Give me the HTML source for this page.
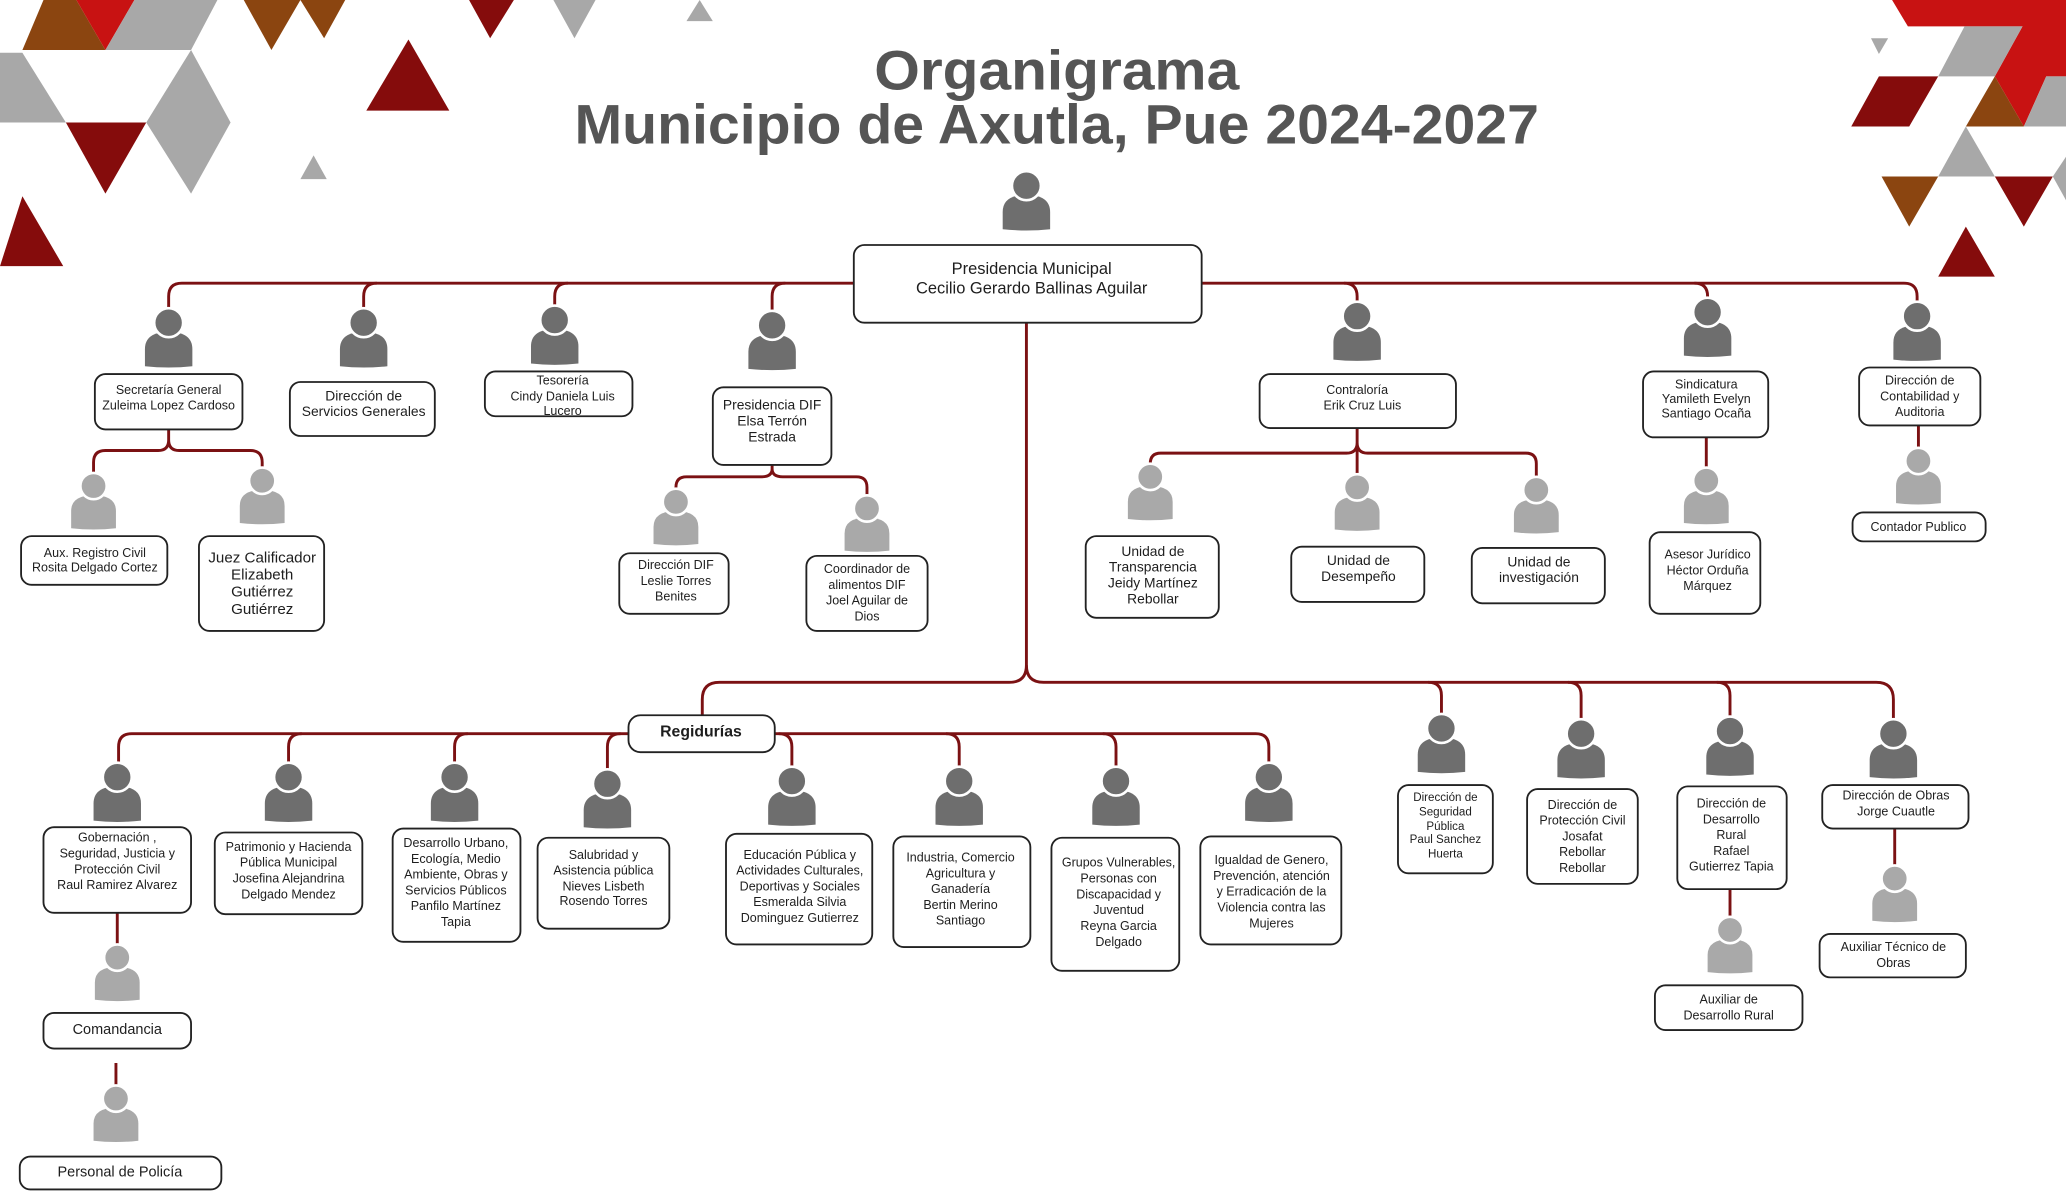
<!DOCTYPE html>
<html><head><meta charset="utf-8"><style>
html,body{margin:0;padding:0;background:#fff;}
svg{display:block;}
text{font-family:"Liberation Sans",sans-serif;fill:#1e1e1e;text-anchor:middle;}
.b{fill:#fff;stroke:#222;stroke-width:1.4;}
.c{fill:none;stroke:#7b1113;stroke-width:2.2;}
.s{font-size:9.5px;}
.m{font-size:10.5px;}
</style></head><body>
<svg width="2066" height="1200" viewBox="0 0 1568 911" preserveAspectRatio="none" xmlns="http://www.w3.org/2000/svg">
<defs>
<g id="pd"><path d="M-18,33 L-18,20 Q-18,7 0,7 Q18,7 18,20 L18,33 Q0,35 -18,33Z" fill="#6e6e6e"/><circle cx="0" cy="0" r="11" fill="#6e6e6e" stroke="#fff" stroke-width="2"/></g>
<g id="pl"><path d="M-17,32 L-17,19 Q-17,7 0,7 Q17,7 17,19 L17,32 Q0,34 -17,32Z" fill="#a9a9a9"/><circle cx="0" cy="0" r="10" fill="#a9a9a9" stroke="#fff" stroke-width="2"/></g>
</defs>
<!-- decorations left -->
<polygon points="17,38 33,0 58,0 80,38" fill="#8b4510"/>
<polygon points="58,0 102,0 80,38" fill="#c81212"/>
<polygon points="80,38 102,0 165,0 145,38" fill="#a8a8a8"/>
<polygon points="0,40 17,40 50,93 0,93" fill="#a8a8a8"/>
<polygon points="50,93 111,93 80,147" fill="#850c0c"/>
<polygon points="111,93 145,38 175,93 145,147" fill="#a8a8a8"/>
<polygon points="278,84 341,84 310,30" fill="#850c0c"/>
<polygon points="185,0 228,0 206,38" fill="#8b4510"/>
<polygon points="228,0 262,0 246,29" fill="#8b4510"/>
<polygon points="356,0 390,0 372,29" fill="#850c0c"/>
<polygon points="420,0 452,0 436,29" fill="#a8a8a8"/>
<polygon points="521,16 541,16 531,0" fill="#a8a8a8"/>
<polygon points="228,136 248,136 238,118" fill="#a8a8a8"/>
<polygon points="0,202 48,202 17,149" fill="#850c0c"/>
<!-- decorations right -->
<polygon points="1436,0 1568,0 1568,58 1553,58 1536,96 1514,58 1535,20 1448,20" fill="#c81212"/>
<polygon points="1491,20 1535,20 1514,58 1471,58" fill="#a8a8a8"/>
<polygon points="1420,29 1433,29 1426,41" fill="#a8a8a8"/>
<polygon points="1426,58 1471,58 1449,96 1405,96" fill="#850c0c"/>
<polygon points="1514,58 1536,96 1492,96" fill="#8b4510"/>
<polygon points="1553,58 1568,58 1568,96 1536,96" fill="#a8a8a8"/>
<polygon points="1492,96 1514,134 1471,134" fill="#a8a8a8"/>
<polygon points="1428,134 1471,134 1449,172" fill="#8b4510"/>
<polygon points="1514,134 1558,134 1536,172" fill="#850c0c"/>
<polygon points="1558,134 1568,119 1568,152" fill="#a8a8a8"/>
<polygon points="1492,172 1514,210 1471,210" fill="#850c0c"/>
<!-- title -->
<text x="802" y="68" style="font-size:42px;font-weight:bold;fill:#555" textLength="277" lengthAdjust="spacingAndGlyphs">Organigrama</text>
<text x="802" y="109" style="font-size:42px;font-weight:bold;fill:#555" textLength="732" lengthAdjust="spacingAndGlyphs">Municipio de Axutla, Pue 2024-2027</text>
<!-- connectors -->
<path class="c" d="M648,215 H138 Q128,215 128,225 V234"/>
<path class="c" d="M286,215 Q276,215 276,225 V234"/>
<path class="c" d="M431,215 Q421,215 421,225 V232"/>
<path class="c" d="M596,215 Q586,215 586,225 V236"/>
<path class="c" d="M912,215 H1445 Q1455,215 1455,225 V230"/>
<path class="c" d="M1020,215 Q1030,215 1030,225 V230"/>
<path class="c" d="M1286,215 Q1296,215 1296,225 V228"/>
<path class="c" d="M779,245 V505 Q779,518 766,518 H546 Q533,518 533,531 V544"/>
<path class="c" d="M779,505 Q779,518 792,518 H1424 Q1437,518 1437,531 V547"/>
<path class="c" d="M1084,518 Q1094,518 1094,528 V543"/>
<path class="c" d="M1190,518 Q1200,518 1200,528 V547"/>
<path class="c" d="M1303,518 Q1313,518 1313,528 V545"/>
<path class="c" d="M477,557 H100 Q90,557 90,567 V580"/>
<path class="c" d="M229,557 Q219,557 219,567 V580"/>
<path class="c" d="M355,557 Q345,557 345,567 V580"/>
<path class="c" d="M471,557 Q461,557 461,567 V585"/>
<path class="c" d="M588,557 H953 Q963,557 963,567 V580"/>
<path class="c" d="M591,557 Q601,557 601,567 V583"/>
<path class="c" d="M718,557 Q728,557 728,567 V583"/>
<path class="c" d="M837,557 Q847,557 847,567 V583"/>
<!-- sub connectors -->
<path class="c" d="M128,326 V334 Q128,342 120,342 H80 Q71,342 71,351 V360 M128,334 Q128,342 136,342 H190 Q199,342 199,351 V356"/>
<path class="c" d="M586,353 V356 Q586,362 578,362 H521 Q513,362 513,370 V372 M586,356 Q586,362 594,362 H650 Q658,362 658,370 V377"/>
<path class="c" d="M1030,325 V336 Q1030,344 1022,344 H881 Q873,344 873,352 V353 M1030,336 V361 M1030,336 Q1030,344 1038,344 H1158 Q1166,344 1166,352 V363"/>
<path class="c" d="M1295,332 V356"/>
<path class="c" d="M1456,323 V341"/>
<path class="c" d="M89,693 V718"/>
<path class="c" d="M88,807 V826"/>
<path class="c" d="M1313,675 V697"/>
<path class="c" d="M1438,629 V658"/>
<!-- icons -->
<use href="#pd" x="779" y="141"/>
<use href="#pd" x="128" y="245"/><use href="#pd" x="276" y="245"/><use href="#pd" x="421" y="243"/><use href="#pd" x="586" y="247"/>
<use href="#pd" x="1030" y="240"/><use href="#pd" x="1296" y="237"/><use href="#pd" x="1455" y="240"/>
<use href="#pl" x="71" y="369"/><use href="#pl" x="199" y="365"/><use href="#pl" x="513" y="381"/><use href="#pl" x="658" y="386"/>
<use href="#pl" x="873" y="362"/><use href="#pl" x="1030" y="370"/><use href="#pl" x="1166" y="372"/><use href="#pl" x="1295" y="365"/><use href="#pl" x="1456" y="350"/>
<use href="#pd" x="89" y="590"/><use href="#pd" x="219" y="590"/><use href="#pd" x="345" y="590"/><use href="#pd" x="461" y="595"/>
<use href="#pd" x="601" y="593"/><use href="#pd" x="728" y="593"/><use href="#pd" x="847" y="593"/><use href="#pd" x="963" y="590"/>
<use href="#pd" x="1094" y="553"/><use href="#pd" x="1200" y="557"/><use href="#pd" x="1313" y="555"/><use href="#pd" x="1437" y="557"/>
<use href="#pl" x="89" y="727"/><use href="#pl" x="88" y="834"/><use href="#pl" x="1313" y="706"/><use href="#pl" x="1438" y="667"/>
<!-- boxes -->
<rect class="b" x="648" y="186" width="264" height="59" rx="8"/>
<text style="font-size:12.5px"><tspan x="783" y="208">Presidencia Municipal</tspan><tspan x="783" y="223">Cecilio Gerardo Ballinas Aguilar</tspan></text>

<rect class="b" x="72" y="284" width="112" height="42" rx="8"/>
<text class="s"><tspan x="128" y="299">Secretaría General</tspan><tspan x="128" y="311">Zuleima Lopez Cardoso</tspan></text>
<rect class="b" x="220" y="290" width="110" height="41" rx="8"/>
<text class="m"><tspan x="276" y="304">Dirección de</tspan><tspan x="276" y="316">Servicios Generales</tspan></text>
<rect class="b" x="368" y="282" width="112" height="34" rx="8"/>
<text class="s"><tspan x="427" y="292">Tesorería</tspan><tspan x="427" y="304">Cindy Daniela Luis</tspan><tspan x="427" y="315">Lucero</tspan></text>
<rect class="b" x="541" y="294" width="90" height="59" rx="8"/>
<text class="m"><tspan x="586" y="311">Presidencia DIF</tspan><tspan x="586" y="323">Elsa Terrón</tspan><tspan x="586" y="335">Estrada</tspan></text>
<rect class="b" x="16" y="407" width="111" height="37" rx="8"/>
<text class="s"><tspan x="72" y="423">Aux. Registro Civil</tspan><tspan x="72" y="434">Rosita Delgado Cortez</tspan></text>
<rect class="b" x="151" y="407" width="95" height="72" rx="8"/>
<text style="font-size:11.5px"><tspan x="199" y="427">Juez Calificador</tspan><tspan x="199" y="440">Elizabeth</tspan><tspan x="199" y="453">Gutiérrez</tspan><tspan x="199" y="466">Gutiérrez</tspan></text>
<rect class="b" x="470" y="420" width="83" height="46" rx="8"/>
<text class="s"><tspan x="513" y="432">Dirección DIF</tspan><tspan x="513" y="444">Leslie Torres</tspan><tspan x="513" y="456">Benites</tspan></text>
<rect class="b" x="612" y="422" width="92" height="57" rx="8"/>
<text class="s"><tspan x="658" y="435">Coordinador de</tspan><tspan x="658" y="447">alimentos DIF</tspan><tspan x="658" y="459">Joel Aguilar de</tspan><tspan x="658" y="471">Dios</tspan></text>

<rect class="b" x="956" y="284" width="149" height="41" rx="8"/>
<text class="s"><tspan x="1030" y="299">Contraloría</tspan><tspan x="1034" y="311">Erik Cruz Luis</tspan></text>
<rect class="b" x="1247" y="282" width="95" height="50" rx="8"/>
<text class="s"><tspan x="1295" y="295">Sindicatura</tspan><tspan x="1295" y="306">Yamileth Evelyn</tspan><tspan x="1295" y="317">Santiago Ocaña</tspan></text>
<rect class="b" x="1411" y="279" width="92" height="44" rx="8"/>
<text class="s"><tspan x="1457" y="292">Dirección de</tspan><tspan x="1457" y="304">Contabilidad y</tspan><tspan x="1457" y="316">Auditoria</tspan></text>
<rect class="b" x="824" y="407" width="101" height="62" rx="8"/>
<text class="m"><tspan x="875" y="422">Unidad de</tspan><tspan x="875" y="434">Transparencia</tspan><tspan x="875" y="446">Jeidy Martínez</tspan><tspan x="875" y="458">Rebollar</tspan></text>
<rect class="b" x="980" y="415" width="101" height="42" rx="8"/>
<text class="m"><tspan x="1031" y="429">Unidad de</tspan><tspan x="1031" y="441">Desempeño</tspan></text>
<rect class="b" x="1117" y="416" width="101" height="42" rx="8"/>
<text class="m"><tspan x="1168" y="430">Unidad de</tspan><tspan x="1168" y="442">investigación</tspan></text>
<rect class="b" x="1252" y="404" width="84" height="62" rx="8"/>
<text class="s"><tspan x="1296" y="424">Asesor Jurídico</tspan><tspan x="1296" y="436">Héctor Orduña</tspan><tspan x="1296" y="448">Márquez</tspan></text>
<rect class="b" x="1406" y="389" width="101" height="22" rx="8"/>
<text class="s"><tspan x="1456" y="403">Contador Publico</tspan></text>

<rect class="b" x="477" y="543" width="111" height="28" rx="9"/>
<text style="font-size:12px;font-weight:bold"><tspan x="532" y="559">Regidurías</tspan></text>

<rect class="b" x="33" y="628" width="112" height="65" rx="8"/>
<text class="s"><tspan x="89" y="639">Gobernación ,</tspan><tspan x="89" y="651">Seguridad, Justicia y</tspan><tspan x="89" y="663">Protección Civil</tspan><tspan x="89" y="675">Raul Ramirez Alvarez</tspan></text>
<rect class="b" x="163" y="632" width="112" height="62" rx="8"/>
<text class="s"><tspan x="219" y="646">Patrimonio y Hacienda</tspan><tspan x="219" y="658">Pública Municipal</tspan><tspan x="219" y="670">Josefina Alejandrina</tspan><tspan x="219" y="682">Delgado Mendez</tspan></text>
<rect class="b" x="298" y="629" width="97" height="86" rx="8"/>
<text class="s"><tspan x="346" y="643">Desarrollo Urbano,</tspan><tspan x="346" y="655">Ecología, Medio</tspan><tspan x="346" y="667">Ambiente, Obras y</tspan><tspan x="346" y="679">Servicios Públicos</tspan><tspan x="346" y="691">Panfilo Martínez</tspan><tspan x="346" y="703">Tapia</tspan></text>
<rect class="b" x="408" y="636" width="100" height="69" rx="8"/>
<text class="s"><tspan x="458" y="652">Salubridad y</tspan><tspan x="458" y="664">Asistencia pública</tspan><tspan x="458" y="676">Nieves Lisbeth</tspan><tspan x="458" y="687">Rosendo Torres</tspan></text>
<rect class="b" x="551" y="633" width="111" height="84" rx="8"/>
<text class="s"><tspan x="607" y="652">Educación Pública y</tspan><tspan x="607" y="664">Actividades Culturales,</tspan><tspan x="607" y="676">Deportivas y Sociales</tspan><tspan x="607" y="688">Esmeralda Silvia</tspan><tspan x="607" y="700">Dominguez Gutierrez</tspan></text>
<rect class="b" x="678" y="635" width="104" height="84" rx="8"/>
<text class="s"><tspan x="729" y="654">Industria, Comercio</tspan><tspan x="729" y="666">Agricultura y</tspan><tspan x="729" y="678">Ganadería</tspan><tspan x="729" y="690">Bertin Merino</tspan><tspan x="729" y="702">Santiago</tspan></text>
<rect class="b" x="798" y="636" width="97" height="101" rx="8"/>
<text class="s"><tspan x="849" y="658">Grupos Vulnerables,</tspan><tspan x="849" y="670">Personas con</tspan><tspan x="849" y="682">Discapacidad y</tspan><tspan x="849" y="694">Juventud</tspan><tspan x="849" y="706">Reyna Garcia</tspan><tspan x="849" y="718">Delgado</tspan></text>
<rect class="b" x="911" y="635" width="107" height="82" rx="8"/>
<text class="s"><tspan x="965" y="656">Igualdad de Genero,</tspan><tspan x="965" y="668">Prevención, atención</tspan><tspan x="965" y="680">y Erradicación de la</tspan><tspan x="965" y="692">Violencia contra las</tspan><tspan x="965" y="704">Mujeres</tspan></text>
<rect class="b" x="33" y="769" width="112" height="27" rx="8"/>
<text style="font-size:11px"><tspan x="89" y="785">Comandancia</tspan></text>
<rect class="b" x="15" y="878" width="153" height="25" rx="8"/>
<text style="font-size:11px"><tspan x="91" y="893">Personal de Policía</tspan></text>

<rect class="b" x="1061" y="596" width="72" height="67" rx="8"/>
<text style="font-size:8.8px"><tspan x="1097" y="608">Dirección de</tspan><tspan x="1097" y="619">Seguridad</tspan><tspan x="1097" y="630">Pública</tspan><tspan x="1097" y="640">Paul Sanchez</tspan><tspan x="1097" y="651">Huerta</tspan></text>
<rect class="b" x="1159" y="599" width="84" height="72" rx="8"/>
<text class="s"><tspan x="1201" y="614">Dirección de</tspan><tspan x="1201" y="626">Protección Civil</tspan><tspan x="1201" y="638">Josafat</tspan><tspan x="1201" y="650">Rebollar</tspan><tspan x="1201" y="662">Rebollar</tspan></text>
<rect class="b" x="1273" y="597" width="83" height="78" rx="8"/>
<text class="s"><tspan x="1314" y="613">Dirección de</tspan><tspan x="1314" y="625">Desarrollo</tspan><tspan x="1314" y="637">Rural</tspan><tspan x="1314" y="649">Rafael</tspan><tspan x="1314" y="661">Gutierrez Tapia</tspan></text>
<rect class="b" x="1383" y="596" width="111" height="33" rx="8"/>
<text class="s"><tspan x="1439" y="607">Dirección de Obras</tspan><tspan x="1439" y="619">Jorge Cuautle</tspan></text>
<rect class="b" x="1256" y="748" width="112" height="34" rx="8"/>
<text class="s"><tspan x="1312" y="762">Auxiliar de</tspan><tspan x="1312" y="774">Desarrollo Rural</tspan></text>
<rect class="b" x="1381" y="709" width="111" height="33" rx="8"/>
<text class="s"><tspan x="1437" y="722">Auxiliar Técnico de</tspan><tspan x="1437" y="734">Obras</tspan></text>
</svg>
</body></html>
